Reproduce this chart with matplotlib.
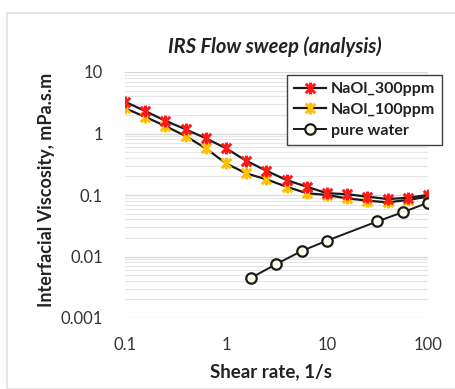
import matplotlib
matplotlib.use("Agg")
import matplotlib.pyplot as plt
from matplotlib.path import Path
from matplotlib.patches import Rectangle
from matplotlib.ticker import FixedLocator, NullFormatter, LogLocator

# Shear rates (1/s)
shear_naol = [0.1, 0.158, 0.251, 0.398, 0.631, 1.0, 1.58, 2.51, 3.98, 6.31,
              10.0, 15.8, 25.1, 39.8, 63.1, 100.0]
shear_water = [1.78, 3.16, 5.62, 10.0, 31.6, 56.2, 100.0]

# Interfacial viscosity (mPa.s.m)
visc_naol_300 = [3.29, 2.32, 1.61, 1.17, 0.836, 0.574, 0.361, 0.248, 0.175, 0.136,
                 0.107, 0.103, 0.094, 0.086, 0.090, 0.100]
visc_naol_100 = [2.57, 1.87, 1.32, 0.91, 0.574, 0.327, 0.225, 0.180, 0.136, 0.107,
                 0.100, 0.088, 0.081, 0.076, 0.083, 0.094]
visc_water = [0.00452, 0.00755, 0.0123, 0.0181, 0.0373, 0.0524, 0.075]

series_labels = ["NaOl_300ppm", "NaOl_100ppm", "pure water"]
x_ticks = [0.1, 1, 10, 100]
x_ticklabels = ["0.1", "1", "10", "100"]
y_ticks = [0.001, 0.01, 0.1, 1, 10]
y_ticklabels = ["0.001", "0.01", "0.1", "1", "10"]

plt.rcParams["font.family"] = ["Lato", "DejaVu Sans"]

# star marker: vertical stroke plus two diagonals
star = Path([(0, -1), (0, 1), (-0.8, -0.8), (0.8, 0.8), (-0.8, 0.8), (0.8, -0.8)],
            [Path.MOVETO, Path.LINETO, Path.MOVETO, Path.LINETO, Path.MOVETO, Path.LINETO])

W, H = 455, 389
fig = plt.figure(figsize=(W / 100, H / 100), dpi=100)
fig.patches.append(Rectangle((7 / W, 0), 1, 1 - 13 / H, transform=fig.transFigure,
                             fill=False, edgecolor="#e2e2e2", linewidth=1.2))

ax = fig.add_axes([125 / W, 1 - 318 / H, (428 - 125) / W, (318 - 72) / H])
ax.set_xscale("log")
ax.set_yscale("log")
ax.set_xlim(0.1, 100)
ax.set_ylim(0.001, 10)

ax.yaxis.set_minor_locator(LogLocator(base=10, subs=range(2, 10)))
ax.yaxis.set_minor_formatter(NullFormatter())
ax.xaxis.set_minor_formatter(NullFormatter())
ax.grid(True, which="major", axis="y", color="#d9d9d9", linewidth=0.9)
ax.grid(True, which="minor", axis="y", color="#e6e6e6", linewidth=0.8)
ax.set_axisbelow(True)
for s in ax.spines.values():
    s.set_visible(False)

ax.xaxis.set_major_locator(FixedLocator(x_ticks))
ax.set_xticklabels(x_ticklabels)
ax.yaxis.set_major_locator(FixedLocator(y_ticks))
ax.set_yticklabels(y_ticklabels)
ax.tick_params(axis="both", which="both", length=0, labelsize=12, labelcolor="#333333")
ax.tick_params(axis="x", pad=14)
ax.tick_params(axis="y", pad=16)

ax.plot(shear_naol, visc_naol_300, color="#1a1a1a", linewidth=1.6, marker=star,
        markersize=8.5, markeredgecolor="#ff1a1a", markeredgewidth=2.2,
        label=series_labels[0], zorder=4)
ax.plot(shear_naol, visc_naol_100, color="#1a1a1a", linewidth=1.6, marker=star,
        markersize=8.5, markeredgecolor="#ffc000", markeredgewidth=2.2,
        label=series_labels[1], zorder=3)
ax.plot(shear_water, visc_water, color="#1a1a1a", linewidth=1.4, marker="o",
        markersize=7.5, markerfacecolor="#fffff0", markeredgecolor="#1a1a1a",
        markeredgewidth=1.6, label=series_labels[2], zorder=5)

leg = ax.legend(loc="upper left", bbox_to_anchor=(287 / W, 1 - 75 / H),
                bbox_transform=fig.transFigure, frameon=True, fancybox=False,
                edgecolor="#404040", framealpha=1, fontsize=11.5,
                handlelength=2.0, handletextpad=0.3, borderpad=0.45,
                labelspacing=0.4, borderaxespad=0)
leg.get_frame().set_linewidth(1.0)
for t in leg.get_texts():
    t.set_fontweight("bold")
    t.set_color("#222222")

fig.text(275 / W, 1 - 47 / H, "IRS Flow sweep (analysis)", ha="center", va="center",
         fontsize=14.5, fontweight="bold", fontstyle="italic", color="#222222")
fig.text(271 / W, 1 - 372 / H, "Shear rate, 1/s", ha="center", va="center",
         fontsize=13.5, fontweight="bold", color="#222222")
fig.text(47 / W, 1 - 190 / H, "Interfacial Viscosity, mPa.s.m", ha="center", va="center",
         rotation=90, fontsize=13, fontweight="bold", color="#222222")

fig.savefig("out.png", dpi=100)
